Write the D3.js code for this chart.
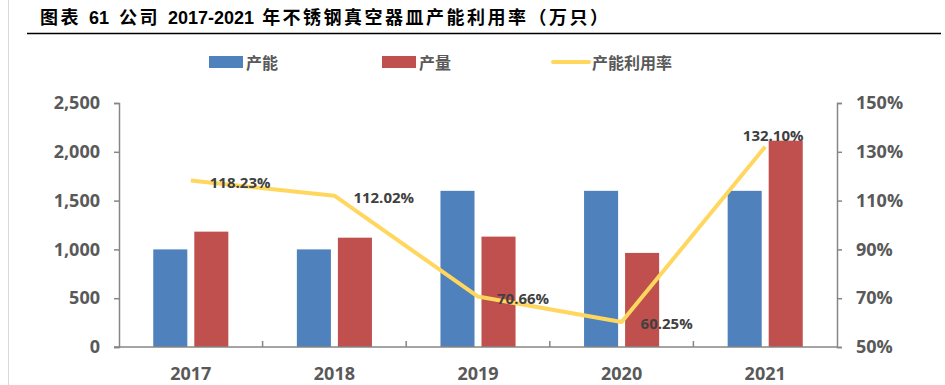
<!DOCTYPE html>
<html>
<head>
<meta charset="utf-8">
<script src="https://cdn.jsdelivr.net/npm/d3@7/dist/d3.min.js"></script>
<style>
  html, body { margin: 0; padding: 0; background: #fff; }
  svg { display: block; }
  .tick text { font-family: "Open Sans", "Noto Sans", sans-serif; font-weight: 700; fill: #595959; }
</style>
</head>
<body>
<svg id="chart" width="945" height="385"></svg>
<script>
const years = ['2017', '2018', '2019', '2020', '2021']
const capacity = [1000, 1000, 1600, 1600, 1600]
const output = [1182, 1120, 1131, 964, 2114]
const utilization = [118.23, 112.02, 70.66, 60.25, 132.10]
const leftTicks = [0, 500, 1000, 1500, 2000, 2500]
const rightTicks = [50, 70, 90, 110, 130, 150]
const seriesNames = ['产能', '产量', '产能利用率']

const colors = { cap: '#4F81BD', out: '#C0504D', line: '#FFD75E', text: '#595959' }
const labelPlace = ['right', 'right', 'right', 'right', 'above']

const svg = d3.select('#chart')
const cjk = '"Noto Sans CJK SC", "Noto Sans", sans-serif'
const latin = '"Liberation Sans", Arial, sans-serif'

// page frame: left rule + title + underline
svg.append('line')
  .attr('x1', 8.5).attr('x2', 8.5).attr('y1', 0).attr('y2', 385)
  .attr('stroke', '#d9d9d9').attr('stroke-width', 1)

let title = svg.append('text')
  .attr('x', 40).attr('y', 24)
  .style('font-family', cjk).style('font-weight', 700).style('font-size', '18px')
  .style('letter-spacing', '2.5px')
  .attr('fill', '#000')
title.append('tspan').text('图表')
title.append('tspan').attr('dx', 8).style('font-family', latin).style('letter-spacing', '0px').text('61')
title.append('tspan').attr('dx', 10).text('公司')
title.append('tspan').attr('dx', 8).style('font-family', latin).style('letter-spacing', '0px').text('2017-2021')
title.append('tspan').attr('dx', 8).text('年不锈钢真空器皿产能利用率（万只）')

svg.append('line')
  .attr('x1', 27).attr('x2', 941).attr('y1', 33.5).attr('y2', 33.5)
  .attr('stroke', '#000').attr('stroke-width', 1.5)

// plot area
const plotL = 119, plotR = 837, plotT = 103, plotB = 347

const x0 = d3.scaleBand().domain(years).range([plotL, plotR]).paddingInner(0).paddingOuter(0)
const x1 = d3.scaleBand().domain(['cap', 'out']).range([0, x0.bandwidth()])
  .paddingInner(0.17).paddingOuter(0.835)
const yL = d3.scaleLinear().domain([0, 2500]).range([plotB, plotT])
const yR = d3.scaleLinear().domain([50, 150]).range([plotB, plotT])

// bars
const groups = svg.append('g').selectAll('g.year')
  .data(years)
  .enter()
  .append('g')
    .attr('class', 'year')
    .attr('transform', function (d) { return 'translate(' + x0(d) + ',0)' })

groups.append('rect')
  .attr('x', x1('cap'))
  .attr('width', x1.bandwidth())
  .attr('y', function (d, i) { return yL(capacity[i]) })
  .attr('height', function (d, i) { return plotB - yL(capacity[i]) })
  .attr('fill', colors.cap)

groups.append('rect')
  .attr('x', x1('out'))
  .attr('width', x1.bandwidth())
  .attr('y', function (d, i) { return yL(output[i]) })
  .attr('height', function (d, i) { return plotB - yL(output[i]) })
  .attr('fill', colors.out)

// axes
const axisColor = '#868686'
let gL = svg.append('g')
  .attr('transform', 'translate(' + plotL + ',0)')
  .call(d3.axisLeft(yL).tickValues(leftTicks).tickFormat(d3.format(',')).tickSize(5).tickPadding(14))
let gR = svg.append('g')
  .attr('transform', 'translate(' + plotR + ',0)')
  .call(d3.axisRight(yR).tickValues(rightTicks).tickFormat(function (d) { return d + '%' }).tickSize(5).tickPadding(14))
let gX = svg.append('g')
  .attr('transform', 'translate(0,' + plotB + ')')
  .call(d3.axisBottom(x0).tickSize(0).tickPadding(20))

;[gL, gR, gX].forEach(function (g) {
  g.select('.domain').attr('stroke', axisColor).attr('stroke-width', 1.5)
  g.selectAll('.tick line').attr('stroke', axisColor).attr('stroke-width', 1.5)
  g.selectAll('.tick text').style('font-size', '18px')
})
gX.select('.domain').attr('d', 'M' + (plotL - 5) + ',0H' + plotR)

// category separators (ticks pointing up)
svg.append('g').selectAll('line')
  .data(years.slice(1))
  .enter()
  .append('line')
    .attr('x1', function (d) { return x0(d) })
    .attr('x2', function (d) { return x0(d) })
    .attr('y1', plotB).attr('y2', plotB - 6)
    .attr('stroke', axisColor).attr('stroke-width', 1.5)

// utilization line
const cx = function (i) { return x0(years[i]) + x0.bandwidth() / 2 }
const line = d3.line()
  .x(function (d, i) { return cx(i) })
  .y(function (d) { return yR(d) })

svg.append('path')
  .datum(utilization)
  .attr('d', line)
  .attr('fill', 'none')
  .attr('stroke', colors.line)
  .attr('stroke-width', 4)
  .attr('stroke-linejoin', 'round')

svg.append('g').selectAll('text')
  .data(utilization)
  .enter()
  .append('text')
    .attr('x', function (d, i) { return labelPlace[i] === 'above' ? cx(i) + 8 : cx(i) + 19 })
    .attr('y', function (d, i) { return labelPlace[i] === 'above' ? yR(d) - 12 : yR(d) + 1 })
    .attr('text-anchor', function (d, i) { return labelPlace[i] === 'above' ? 'middle' : 'start' })
    .attr('dominant-baseline', 'central')
    .style('font-family', '"Open Sans", "Noto Sans", sans-serif')
    .style('font-weight', 700)
    .style('font-size', '15px')
    .attr('fill', '#404040')
    .text(function (d) { return d.toFixed(2) + '%' })

// legend
const legend = svg.append('g').style('font-family', cjk).style('font-weight', 700).style('font-size', '16px')
const legendX = [209, 382, 553]
seriesNames.forEach(function (name, i) {
  let g = legend.append('g').attr('transform', 'translate(' + legendX[i] + ',62)')
  if (i < 2) {
    g.append('rect').attr('x', 0).attr('y', -6).attr('width', 34).attr('height', 12)
      .attr('fill', i === 0 ? colors.cap : colors.out)
  } else {
    g.append('line').attr('x1', 0).attr('x2', 36).attr('y1', 0).attr('y2', 0)
      .attr('stroke', colors.line).attr('stroke-width', 4).attr('stroke-linecap', 'round')
  }
  g.append('text').attr('x', i < 2 ? 37 : 39).attr('y', 0).attr('dominant-baseline', 'central')
    .attr('fill', colors.text).text(name)
})
</script>
</body>
</html>
